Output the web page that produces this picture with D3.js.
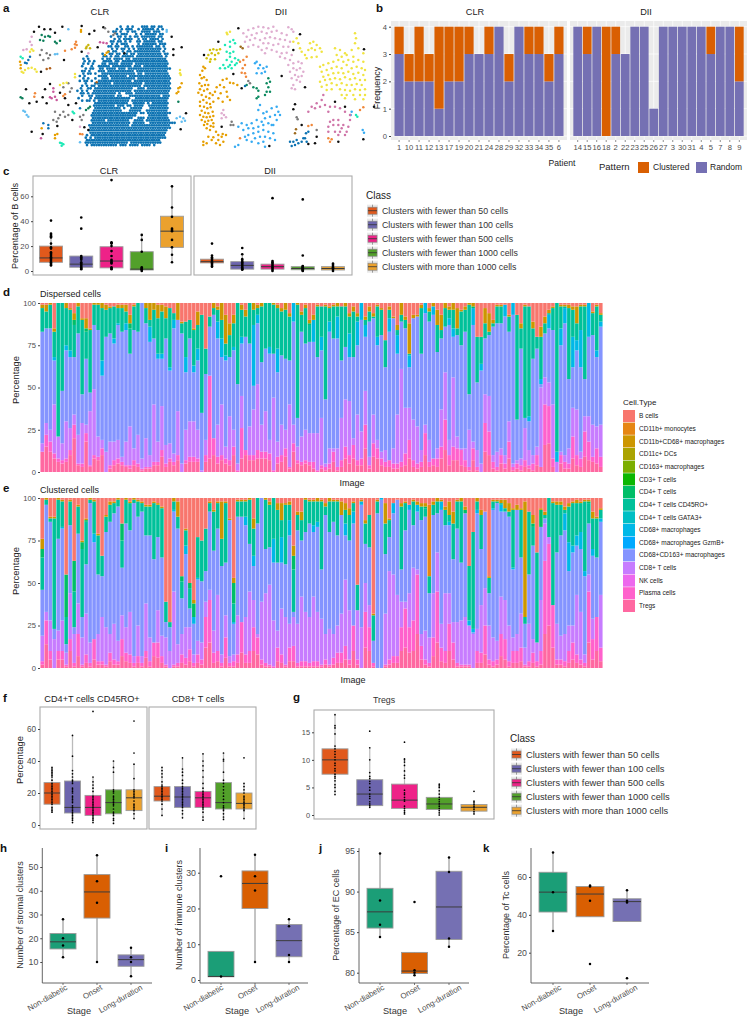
<!DOCTYPE html>
<html>
<head>
<meta charset="utf-8">
<script src="https://d3js.org/d3.v7.min.js"></script>
<style>
body { margin: 0; background: #fff; }
text { font-family: "Liberation Sans", Arial, sans-serif; }
</style>
</head>
<body>
<script>
// ---- a: tissue maps, positions in image units, [x, y, x, y, ...]
var clrBlueMask = [
"...................#..#.#...###.##.##.....",
".................#.#.###..#.#####.#.#.....",
"................##.#..#.##..####.###......",
".................#.###...#.#.#####.##.....",
"...............#..##.#.#.##.######.##.....",
"................#.#.####..#.##.####.#.....",
"...............##.##.#.#..##.#####.##.....",
"...............#.#.###....#.######.###....",
"..............##.##..##.#.#######.##.#....",
"...............#.#.##.#.#.##########.#....",
"..............#.##..#.##.###########.#....",
"...........#..##.##.##.##.##########.##...",
".....#......##.#.##.#####.###########.#...",
"...#.#.....#.##.####.##.##############....",
"....#.#.#...####.##.###################...",
"...#.#.#...##.####.#####.##############...",
"...#...#..#####.########.###.##########...",
"....#.##..##.####.###.##################..",
"...##.#...###.###########.#############...",
"...#.##.#..##############.##.##########...",
"..#.#.....####.#######.#################..",
"...#.#..#..###.##########.##############..",
"..#.##.#..##############.###############..",
"....#...#######.############.###########..",
"...#.#.##.##################.###########..",
"..#..##.################..###.##########..",
".#.#.#..################.###############..",
"..##.#.##########.#..###.##############...",
"...#..##.########.##...#############.###..",
".#....#.###############..##############...",
"...#.##.#.#############.###############...",
"........##############..#####.#.#######...",
"........#########.###.##.####..########...",
"........###########.#..#####...########...",
"........############...#####..#########...",
".......###################.##.##########...",
".......###################.....########....",
".......#################..###.#########....",
".......######.#########..####.##########..",
".......################.#####..###########.",
"......#################.################..",
"......##################################.",
"......#################################..",
"......################################...",
".....#.###############################...",
"....#.#.##############################....",
".....###############################.....",
"....##################.#############......",
".....#.###########.###.####.####.#........"
];
var clrBlackPts = [117,80,133,88,151,88,165,98,187,80,245,78,283,92,268,102,102,95,310,82,293,142,245,155,192,180,123,215,150,252,78,268,135,268,180,278,128,292,110,305,88,310,205,315,195,295,140,310,172,378,95,395,128,402,265,390,253,382,217,360,373,160,515,110,545,142,520,148,520,165,558,340,542,388,228,310];
var clrGreyPts = [125,150,120,165,150,165,145,175,130,180,140,160,205,250,215,265,210,275,190,262,165,335,180,345,190,335,175,355,160,360,195,350,205,345,170,365,240,350,250,345,245,360,315,85,325,95,345,100,340,105];
var clrGreenPts = [125,105,135,110,150,110,130,122,120,120,165,125,180,122,170,130,145,108,265,325,258,330,270,320,62,292,67,295,535,305];
var clrLilacPts = [95,110,90,125,95,135,70,150,80,148,240,380,265,160];
var clrYellowPts = [65,215,75,210,85,205,95,203,105,208,110,215,70,218,180,255,190,250,200,248,225,222,225,232,540,210,540,220,542,225,95,148,100,152,90,155];
var clrOlivePts = [260,140,265,135,258,145,270,145];
var clrGoldPts = [60,185,62,195,62,205,165,405,165,415,172,402,320,158,315,165,325,155,535,265,535,275,530,280,545,250,540,262,125,385,243,90,243,95];
var clrSkyPts = [205,88,500,95,500,90,75,335,80,345,85,350,70,332,165,163,172,162,530,355,540,350,550,355,545,365,555,362,240,427];
var clrCoralPts = [228,125,225,133,230,135,195,152,215,148,225,143,105,280,103,290,190,288,195,283,240,402,247,403];
var clrTealPts = [185,430,180,428,190,433,185,437,218,335,222,340,62,170,68,175];
var clrDeepPts = [90,170,85,180,75,188,80,190,145,375,145,385,130,370,240,325];
var clrMagentaPts = [160,265,160,275,165,290,155,295,170,300,150,292,300,127,310,128,320,130,123,415];
var clrBrownPts = [140,207,150,205,290,247];

var diiGoldPts = [610,200,607,212,615,205,600,225,605,235,612,232,620,240,598,250,605,258,615,255,625,255,600,268,612,272,622,268,630,280,595,278,605,285,618,290,628,295,638,285,645,275,650,262,660,255,668,240,680,236,690,248,700,250,712,255,672,262,680,275,662,280,655,295,668,305,682,290,690,300,600,305,610,300,620,308,630,312,640,305,600,318,612,320,622,325,632,322,605,332,615,338,625,340,638,335,600,345,610,350,620,352,630,350,640,348,605,360,615,365,625,362,635,360,612,375,622,372,632,378,640,370,620,385,630,390,640,380,648,395,655,405,668,402,678,405,625,410,640,412,655,420,610,425,620,430,635,420,648,430,660,435,670,425,610,435,665,410];
var diiLilacPts = [730,100,745,90,760,85,775,80,790,82,805,85,820,80,865,82,875,88,880,95,740,110,755,105,770,100,785,95,800,100,815,95,830,92,845,100,860,105,735,125,750,120,765,115,780,120,795,115,810,112,825,115,840,118,855,120,870,125,760,135,775,140,790,130,805,130,820,135,835,132,850,140,865,140,745,140,785,150,800,145,815,150,830,155,845,160,860,158,875,165,795,160,840,170,855,175,870,180,880,190,895,185,905,190,865,195,880,205,890,210,900,205,910,215,870,215,885,225,895,230,905,228,875,235,890,240,900,245,880,255,875,265,885,268,670,330,665,340,672,345,678,352,665,355];
var diiYellowPts = [880,125,890,115,895,130,900,145,905,155,915,165,930,130,940,125,950,135,935,145,925,150,945,150,960,145,920,175,935,172,950,170,965,155,1005,145,1020,150,1035,160,1055,150,1065,100,1068,115,1065,130,1075,145,1090,160,1060,170,1040,165,1025,170,1010,165,960,200,970,195,985,190,1000,185,1015,180,1030,185,1045,180,1060,185,1075,180,1090,185,965,215,980,210,995,205,1010,200,1025,205,1040,195,1055,205,1070,200,1085,205,1095,210,970,230,985,225,1000,220,1015,218,1030,220,1045,215,1060,222,1075,218,1090,225,960,245,975,240,990,238,1005,235,1020,238,1035,232,1050,238,1065,235,1080,240,1095,240,965,260,980,255,995,250,1010,255,1025,250,1040,255,1055,255,1070,252,1085,255,980,270,995,268,1020,268,1035,270,1050,272,1065,268,1080,270,1095,268,1025,285,1040,285,1060,285,1080,285,1095,285,1035,295,1065,298,1090,298,680,98,690,95,682,103];
var diiSkyPts = [770,185,780,195,775,205,790,205,800,200,795,215,785,220,770,220,765,190,780,315,775,330,790,340,800,335,815,325,830,320,840,345,835,335,825,345,810,350,795,355,785,365,770,360,755,370,740,375,725,370,715,380,730,390,745,385,760,385,775,380,790,375,805,370,820,375,760,400,775,395,790,390,805,395,820,400,745,405,735,410,765,415,780,410,795,410,810,415,825,420,790,425,775,430,755,425,740,420,715,435,705,440,795,440,815,375,830,360,1055,335,1052,345,1088,390,1092,398];
var diiTealPts = [700,120,690,125,675,135,690,140,705,130,680,155,690,160,700,155,690,170,705,175,680,180,695,185,710,190,670,195,685,200,660,205,675,205,695,205,705,195,715,180,690,195,1072,350,1068,345];
var diiOlivePts = [630,150,640,148,650,150,660,148,625,165,635,160,645,165,655,160,620,175,632,178,645,178,630,185];
var diiCoralPts = [720,185,730,180,740,170,735,195,728,205,725,218,735,220,738,230,1080,330,1090,322,720,415,925,378,935,375,985,415,990,425,995,418];
var diiMagentaPts = [970,285,965,300,950,310,935,320,925,335,945,325,960,320,975,315,990,320,985,335,1005,320,1020,325,1035,335,1050,360,1045,380,1030,375,1015,360,1000,360,990,365,985,380,1000,375,1015,375,1025,385,1040,395,1020,395,1005,395,1035,405,1015,405,985,395,1050,345];
var diiGreenPts = [805,235,810,245,800,250,805,262,800,275,810,275,795,285,775,290,770,295,760,262,770,265,775,272,740,255];
var diiDeepPts = [870,425,880,425,890,420,895,430,885,435,875,438,910,415,918,400,925,395,920,425,915,415,905,425,735,258];
var diiBlackPts = [715,85,655,125,900,103,880,150,612,165,700,222,845,228,915,262,725,265,1092,148,1005,305,1035,320,885,313,880,328,665,380,808,438,905,375,945,430,925,432,950,410,1015,425,1090,418,1122,320];
var diiGreyPts = [745,243,750,250,890,352,893,358,695,365,692,375,700,375,950,390];
var diiBrownPts = [722,140,728,145,888,388,885,400];

// ---- b
var clrPatients = ["1","10","11","12","13","17","19","20","21","24","28","29","32","33","34","35","6"];
var clrRandom = [3,2,2,2,1,2,2,3,3,3,4,2,4,3,3,2,3];
var clrClustered = [1,1,2,1,3,2,2,1,0,1,0,1,0,1,1,1,1];
var diiPatients = ["14","15","16","18","2","22","23","25","26","27","3","30","31","4","5","7","8","9"];
var diiRandom = [4,3,4,0,3,3,4,4,1,4,4,4,4,4,3,4,4,2];
var diiClustered = [0,1,0,4,1,0,0,0,0,0,0,0,0,0,1,0,0,2];

// ---- box plots: each stat row is [q1, median, q3, whisker low, whisker high]
var classes = ["Clusters with fewer than 50 cells","Clusters with fewer than 100 cells","Clusters with fewer than 500 cells","Clusters with fewer than 1000 cells","Clusters with more than 1000 cells"];
var cClrStats = [[7,10.5,20,4,30],[3,5.5,12,1.5,12],[2.5,8,19.5,1.5,23],[0.8,1.5,15.5,0,29],[19,32,44,7,68]];
var cClrDots = [[4.5,5,6,7,8,9,10,11,12,13,14,15,18,19,22,27,28,29,30,40.5],[1.5,2,3,4,5,6,7,9,10,11,12,34,43],[1.5,2,3,6,7,8,9,12,16,20,22,22.5,23,73],[0,1,1.5,2,3,15.5,25,29],[7,13,19,25,32,33,34,43.5,51,68]];
var cDiiStats = [[6.5,7.5,9.5,3,12.5],[1.5,4.5,7.5,1,13.5],[1.5,3.5,5.5,0,8],[1,2,3.5,0,4.5],[0.8,2,3.5,0,6]];
var cDiiDots = [[3.5,4,5,6,7,8,9,10,11,12.5,22],[1,1.5,2,3,4,5,6,7,8,9.5,13.5,18.5],[0,1,2,3,4,5,6,7,8,58.5],[0,0.5,1,1.5,2,2.5,3,3.5,4,12.5,57.5],[0,1,2,3,4,5,6]];

var f1Stats = [[13,20,26.5,8,36],[7.5,11,27.5,1.5,56],[6,11,18.5,1.5,30],[7,14,22,1,40],[9,17,22,4,38]];
var f1Dots = [[8,9,10,11,13,14,15,16,17,18,19,20,21,22,23,24,25,26,28,30,31,32,33,34,35,36],[1.5,3,4,5,6,7,8,9,10,11,12,14,15,16,17,18,20,21,22,23,26,27,28,30,32,34,43,56],[1.5,3,4,5,6,7,8,9,10,11,12,13,14,15,16,17,18,21,23,25,27,30,71],[1,3,4,6,7,8,10,12,13,14,15,16,17,18,20,21,22,33,36,40],[4,7,9,10,11,12,13,15,17,18,19,20,21,22,29,38,45,65]];
var f2Stats = [[15,18,24,6,36],[11,17.5,24,4.5,42],[11,17,21,3,44.5],[10,14,26.5,3.5,45],[10,13.5,20,4,26]];
var f2Dots = [[6,10,13,15,16,17,18,19,20,21,22,23,24,25,27,30,32,34,36],[4.5,7,9,11,12,13,14,15,16,17,18,19,20,21,22,23,24,26,28,31,33,35,42],[3,5,8,10,11,12,13,14,15,16,17,18,19,20,21,23,26,30,34,37,40,44.5],[3.5,5,7,9,10,11,12,14,16,18,20,22,24,26,28,33,40,41,45],[4,9,10,11,12,13,14,15,16,17,18,20,22,24,26,42]];
var gStats = [[7.4,10,12,3.7,18.2],[1.7,3.8,6.4,1.4,12.2],[1.2,2.7,5.6,0.2,10.2],[1,2,3.2,0,5.6],[0.7,1.4,1.9,0.2,2.5]];
var gDots = [[3.7,4.3,5,5.5,6.2,6.7,7,7.4,8,8.4,9,9.4,10,10.5,11,11.5,12,12.5,14.7,15.8,16.2,18.2],[1.4,1.7,2,2.4,3,3.4,3.8,4.5,5,5.7,6.1,6.6,7,7.7,10,12.2,15.2],[0.2,0.5,0.8,1.2,1.6,2.5,2.8,3.2,3.7,4,4.5,6.7,7.2,8,9,9.6,10,10.2,13.2],[0,0.4,0.8,1.2,1.6,2,2.4,2.8,3.2,3.8,4.4,5,5.3,5.6],[0.2,0.6,1,1.3,1.6,1.9,2.2,2.5,4.3]];

var stages = ["Non-diabetic","Onset","Long-duration"];
var hStats = [[15.5,18.5,22,12,28],[28.5,39.5,46.8,10,55],[8.2,11,13,4,16]];
var hDots = [[12,17,20,28],[10,35,44,55],[4,10,12,16]];
var iStats = [[0.9,1,8,1,8],[20,27,30.5,5,35],[6.5,11,15.5,5,17]];
var iDots = [[1,29],[5,25,29,35],[5,7,15,17]];
var jStats = [[85.5,87.5,90.4,84.4,94.7],[79.9,80.2,82.5,79.7,82.5],[84.1,88.1,92.5,83.2,94.2]];
var jDots = [[84.4,85.9,88.9,94.7],[79.7,80,80.3,88.7],[83.2,84.2,92.4,94.2]];
var kStats = [[41.5,52,62.5,31.5,73],[39,51,55,39,55.5],[36.5,47,48.5,36.5,53]];
var kDots = [[31.5,52,73],[14,47.5,55,55.5],[6.5,46.5,47.5,53]];

// ---- d: cumulative tops of each layer per image
var dTreg = [12,15,12,8,6,5,6,10,20,4,3,18,3,8,7,10,0,2,4,5,4,3,2,4,3,1,2,2,4,4,9,3,6,4,7,0,5,6,6,6,0,6,8,10,5,7,5,4,10,0,8,10,7,7,8,8,8,7,0,5,6,9,2,12,5,4,5,4,
 2,0,2,1,2,6,1,3,8,5,8,4,4,14,2,9,8,4,3,3,2,2,3,4,8,3,2,3,10,3,4,3,8,13,4,7,7,4,3,1,7,1,0,12,10,2,1,5,2,8,1,2,1,3,2,1,4,3,16,17,3,0,5,2,2,8,4,3,9,7,6,5,3];
var dPlasma = [12,22,18,11,8,7,8,13,28,5,5,23,4,10,9,14,0,4,7,8,6,4,4,7,5,2,3,3,6,6,13,5,8,6,10,0,7,9,9,8,0,10,57,20,9,10,8,7,15,1,26,13,10,10,13,12,12,11,1,9,10,14,3,17,7,6,7,6,
 6,1,4,3,5,12,3,7,15,10,16,7,8,28,4,17,14,8,6,7,5,5,6,11,19,7,5,6,23,6,8,8,15,31,10,15,14,13,7,3,14,3,0,29,24,6,3,10,5,18,3,5,4,7,4,5,10,3,40,39,8,0,10,6,5,21,10,8,24,18,9,14,9];
var dCd8 = [17,29,25,40,21,17,30,26,34,22,29,28,36,49,21,19,12,18,18,19,9,18,27,14,22,8,20,10,40,18,39,16,17,11,36,5,25,30,30,25,1,19,57,20,28,40,15,33,25,5,45,12,27,37,52,28,36,19,44,18,28,25,40,28,15,21,25,23,
 23,23,32,5,14,14,14,32,43,42,20,34,24,48,9,34,19,12,13,5,14,34,61,38,38,31,27,13,28,19,8,14,37,59,19,56,21,14,14,25,18,13,5,46,45,10,12,14,10,30,5,7,8,26,13,10,15,50,56,53,40,6,12,10,14,38,37,12,33,33,28,27,28];
var dBlue = [83,85,85,66,21,48,72,68,68,82,46,67,47,87,84,57,80,82,76,87,83,84,70,84,83,100,88,77,79,67,67,79,60,85,90,82,59,79,59,66,35,58,86,93,79,68,66,68,72,52,76,80,76,51,88,65,73,70,70,59,69,67,66,89,32,83,76,77,
 77,68,72,43,83,79,79,66,74,68,68,75,90,80,89,91,75,81,62,83,91,70,89,85,62,91,92,70,94,89,93,71,79,86,87,80,81,75,83,46,87,53,60,79,81,86,88,88,92,83,93,31,73,32,30,67,73,52,82,85,84,6,75,88,55,62,72,62,55,80,81,68,86];
var dCyanBars = [[3,2],[6,3],[7,4],[15,9],[19,1],[18,3],[21,4],[27,9],[29,3],[30,3],[32,2],[33,5],[36,9],[38,4],[39,7],[44,10],[45,11],[46,3],[48,2],[50,4],[53,36],[54,5],[57,4],[59,14],[63,20],
 [68,13],[70,8],[72,6],[74,13],[77,14],[79,14],[80,14],[81,7],[84,5],[87,8],[89,11],[92,7],[96,8],[98,5],[102,4],[103,5],[108,10],[110,4],[116,7],[118,12],[122,3],[125,3],[127,8],[129,6],[130,10],[131,9],[133,18],[134,6],[135,22],[137,22],[139,4],[140,3]];
var dTeal = [97,95,99,83,100,100,97,96,90,98,90,85,84,99,99,97,96,97,98,97,97,95,88,98,100,100,97,90,96,91,95,91,97,94,90,88,89,90,84,87,93,73,92,97,96,90,76,81,88,100,96,92,100,96,97,98,100,100,99,97,95,96,92,98,99,93,97,88,
 90,98,98,98,97,98,98,98,98,92,95,92,90,90,95,92,98,96,78,96,90,84,93,90,70,88,92,97,98,95,98,87,84,97,96,96,85,95,96,99,98,80,80,88,83,88,98,98,97,92,93,93,85,98,98,85,80,80,88,94,97,100,98,98,97,96,88,98,98,98,94,98,93];
var dGold = [99,99,100,85,100,100,100,97,94,100,91,91,85,100,100,100,99,98,98,99,99,99,93,99,100,100,100,100,100,99,99,98,97,92,100,89,89,89,85,95,93,73,92,100,98,100,93,88,93,100,99,96,100,100,99,100,100,100,100,99,97,100,94,100,100,95,99,90,
 93,99,98,99,98,99,100,98,100,94,98,94,93,92,98,94,99,97,78,98,92,87,100,92,88,93,93,99,99,97,100,96,93,100,98,100,97,96,98,100,100,80,80,97,94,90,99,99,99,93,94,93,88,99,98,89,80,86,92,96,98,100,99,99,99,98,98,99,99,99,95,99,94];
var dGreenBars = [[8,3],[11,2],[22,3],[67,1],[108,1]];

// ---- e
var eTreg = [2,14,5,0,5,5,1,10,1,7,1,3,1,5,2,2,1,4,2,2,7,4,3,1,3,1,6,1,7,6,3,1,0,1,1,3,2,4,1,3,2,12,15,3,4,1,6,1,1,3,9,3,3,10,8,2,1,1,0,4,3,1,4,4,1,1,1,1,
 1,1,1,2,1,2,3,3,5,2,10,2,0,12,10,1,0,0,1,2,3,3,10,12,9,10,20,5,2,1,7,15,4,3,10,5,1,1,1,1,0,3,3,8,2,1,2,7,5,1,3,3,4,1,1,3,1,2,20,25,12,2,2,1,3,5,3,2,1,15,5,10,4];
var ePlasma = [4,28,10,0,10,10,2,17,3,20,2,8,3,17,4,4,2,9,5,4,17,9,8,3,7,3,10,4,15,15,7,2,0,2,3,8,6,11,3,8,5,30,40,9,10,3,18,3,4,8,27,8,10,24,18,5,3,2,1,12,8,2,12,13,3,4,4,3,
 4,4,2,5,2,6,9,9,13,5,25,5,0,33,24,3,0,0,2,5,7,7,24,35,24,28,55,13,5,3,18,45,12,10,26,15,3,2,2,2,0,10,9,25,5,4,5,20,17,4,10,10,12,2,4,9,4,10,63,73,37,5,5,4,10,15,8,5,3,45,17,30,12];
var eCd8 = [19,33,28,17,22,28,9,44,20,38,18,32,15,17,20,30,24,20,26,16,31,24,33,7,25,7,38,18,13,34,19,18,10,45,14,20,24,24,8,16,15,39,46,22,43,8,31,7,8,31,12,30,45,40,20,39,44,49,28,22,35,30,26,30,26,42,33,30,
 42,33,29,20,23,20,25,32,52,34,25,34,24,50,37,0,0,0,32,57,55,43,39,39,44,59,58,20,22,18,44,68,26,44,44,27,27,28,30,25,20,23,37,47,25,18,16,42,40,25,18,20,32,12,26,17,15,40,85,77,34,26,19,20,25,25,43,33,8,55,29,30,43];
var eBlue = [46,96,86,23,76,82,14,84,24,79,30,61,97,74,55,54,80,86,91,95,59,85,81,97,89,92,78,78,64,77,65,27,24,92,82,41,67,35,26,52,51,57,92,69,82,60,62,87,26,89,89,84,73,60,85,100,70,71,62,62,62,61,78,33,81,75,80,85,
 80,83,58,90,80,86,78,90,78,75,85,23,96,73,71,16,91,99,67,77,91,99,58,81,93,84,92,87,89,44,90,91,93,84,84,64,82,62,91,25,21,91,70,92,44,93,97,92,92,89,58,93,65,26,55,72,15,83,88,68,34,68,78,81,57,68,72,70,54,85,66,65,86];
var eCyanBars = [[5,1],[13,5],[33,1],[36,5],[38,4],[39,1],[48,1],[51,5],[53,6],[58,14],[60,15],[62,9],[68,4],[69,3],[85,5],[88,6],[92,3],[94,4],[100,5],[102,2],[107,3],[113,1],[115,4],[118,1],
 [76,7],[78,7],[80,2],[108,2],[109,2],[133,4],[131,10],[132,17],[134,6],[135,10],[136,3],[138,4],[140,2]];
var eTeal = [70,99,88,88,99,98,55,98,63,95,74,87,99,98,78,66,89,96,97,99,85,99,97,99,98,97,95,95,97,96,94,39,27,98,89,54,81,50,38,77,75,82,97,92,97,76,97,87,50,98,98,98,99,82,100,100,99,96,100,93,87,96,96,66,90,87,99,98,
 98,98,98,95,98,98,98,90,93,90,97,49,98,85,90,31,98,98,85,87,95,75,95,97,90,98,96,95,95,54,96,98,97,93,90,85,98,98,93,60,80,98,90,90,53,98,98,97,94,92,93,88,93,30,92,85,68,93,90,100,97,96,96,93,95,97,97,97,98,98,88,88,93];
var eGold = [76,100,89,89,100,99,55,99,63,96,75,88,100,99,79,66,90,98,98,100,85,100,98,100,99,98,96,96,98,97,95,39,27,100,98,54,82,50,40,77,75,82,98,93,98,98,98,88,53,99,99,99,100,88,100,100,100,98,100,97,97,97,98,72,92,92,100,99,
 99,100,99,97,100,99,99,98,97,94,98,49,99,87,90,32,99,100,97,88,97,97,97,98,91,99,98,97,97,96,98,100,99,95,98,92,99,100,95,60,80,100,93,92,54,99,99,99,99,97,94,96,94,98,92,90,68,94,92,100,98,98,98,95,97,98,99,98,99,99,92,89,94];
var eGreenBars = [[0,5],[6,25],[8,18],[11,1],[10,4],[20,10],[35,3],[37,3],[38,8],[48,12],[63,8],[96,1],[106,10],[123,2],[125,40],[137,1]];
var eOrangeBars = [97];

var cellTypes = ["B cells","CD11b+ monocytes","CD11b+CD68+ macrophages","CD11c+ DCs","CD163+ macrophages","CD3+ T cells","CD4+ T cells","CD4+ T cells CD45RO+","CD4+ T cells GATA3+","CD68+ macrophages","CD68+ macrophages GzmB+","CD68+CD163+ macrophages","CD8+ T cells","NK cells","Plasma cells","Tregs"];
var cellColors = ["#F8766D","#E68613","#CD9600","#ABA300","#7CAE00","#0CB702","#00BE67","#00C19A","#00BFC4","#00B8E7","#00A9FF","#8494FF","#C77CFF","#ED68ED","#FF61CC","#FF68A1"];
var classColors = ["#e1591c","#6c65ad","#ee2288","#52a02a","#eba12d"];
var stageColors = ["#1b9e77","#d95f02","#7570b3"];
var patternColors = ["#d95f02","#7570b3"];

var svg = d3.select("body").append("svg").attr("width", 747).attr("height", 1017).style("display", "block");
var grey = "#4d4d4d";

// the source dots are soft, keep panel a from looking like a lattice
svg.append("defs").append("filter").attr("id", "soft")
.append("feGaussianBlur").attr("stdDeviation", 0.35);
var aLayer = svg.append("g").attr("filter", "url(#soft)");

function label(x, y, str, size, opt) {
    opt = opt || {};
    var t = svg.append("text").attr("x", x).attr("y", y).text(str)
    .attr("font-size", size)
    .attr("fill", opt.fill || "#222")
    .attr("text-anchor", opt.anchor || "start");
    if (opt.bold) t.attr("font-weight", "bold");
    if (opt.rotate) t.attr("transform", "rotate(" + opt.rotate + "," + x + "," + y + ")");
    return t;
}

// y axis in the ggplot look
function yAxis(x, scale, ticks, size, showLine) {
    var g = svg.append("g").attr("transform", "translate(" + x + ",0)")
    .call(d3.axisLeft(scale).tickValues(ticks).tickFormat(d3.format("d")).tickSize(2).tickPadding(2));
    g.selectAll("text").attr("font-size", size).attr("fill", grey).style("font-family", "Liberation Sans");
    g.selectAll("line").attr("stroke", "#444");
    if (showLine) g.select(".domain").attr("stroke", "#444").attr("stroke-width", 0.9);
    else g.select(".domain").remove();
    return g;
}

function frame(x0, x1, y0, y1) {
    svg.append("rect").attr("x", x0).attr("y", y0).attr("width", x1 - x0).attr("height", y1 - y0)
    .attr("fill", "none").attr("stroke", "#ababab").attr("stroke-width", 1.1);
}

// ---------- panel letters
[["a",3,12],["b",376,12],["c",3,175],["d",3,296],["e",3,492],["f",3,702],["g",293,701],["h",0,852],["i",165,852],["j",319,852],["k",483,852]].forEach(function(d) {
    label(d[1], d[2], d[0], 11.5, {bold: true, fill: "#111"});
});

// ---------- a
var ax = d3.scaleLinear().domain([0, 1125]).range([0, 375]);
var ay = d3.scaleLinear().domain([0, 510]).range([0, 170]);

function pairs(flat) {
    var out = [];
    for (var i = 0; i + 1 < flat.length; i += 2) out.push([flat[i], flat[i + 1]]);
    return out;
}

function spots(points, color, r) {
    aLayer.append("g").selectAll("circle").data(points).join("circle")
    .attr("cx", function(d) { return ax(d[0]); })
    .attr("cy", function(d) { return ay(d[1]); })
    .attr("r", r)
    .attr("fill", color);
}

var maskPts = [];
clrBlueMask.forEach(function(row, r) {
    row.split("").forEach(function(c, i) {
        if (c === "#") maskPts.push([225 + i * 7.2 + (r % 2) * 3.6, 80 + r * 7.4]);
    });
});
spots(maskPts, "#0a72b2", 1.35);

[[clrBlackPts,"#111"],[clrGreyPts,"#7a7a7a"],[clrGreenPts,"#0d7f5a"],[clrLilacPts,"#dba6cc"],[clrYellowPts,"#f0e442"],[clrOlivePts,"#c9b50f"],[clrGoldPts,"#e69f00"],[clrSkyPts,"#62bdf0"],[clrCoralPts,"#f0883a"],[clrTealPts,"#1de9b6"],[clrDeepPts,"#0a72b2"],[clrMagentaPts,"#c9589c"],[clrBrownPts,"#b0601a"],
 [diiGoldPts,"#e69f00"],[diiLilacPts,"#dfaed0"],[diiYellowPts,"#f0e442"],[diiSkyPts,"#36abf2"],[diiTealPts,"#1de9b6"],[diiOlivePts,"#d4c20e"],[diiCoralPts,"#f0883a"],[diiMagentaPts,"#cf74a8"],[diiGreenPts,"#0d8a60"],[diiDeepPts,"#0a72b2"],[diiBlackPts,"#111"],[diiGreyPts,"#7a7a7a"],[diiBrownPts,"#9c6a1c"]
].forEach(function(d) { spots(pairs(d[0]), d[1], 1.25); });

label(100, 15, "CLR", 9.4, {anchor: "middle"});
label(281, 15, "DII", 9.4, {anchor: "middle"});

// ---------- b
var by = d3.scaleLinear().domain([0, 4]).range([136, 26.7]);

function patientPanel(x0, x1, patients, random, clustered, title, titleX) {
    var x = d3.scaleBand().domain(patients).range([x0, x1]).paddingInner(0.08).paddingOuter(0.35);
    svg.append("rect").attr("x", x0).attr("y", 21).attr("width", x1 - x0).attr("height", 119).attr("fill", "#ebebeb");
    [0, 1, 2, 3, 4].forEach(function(v) {
        svg.append("line").attr("x1", x0).attr("x2", x1).attr("y1", by(v)).attr("y2", by(v)).attr("stroke", "#fff").attr("stroke-width", 0.7);
    });
    patients.forEach(function(p) {
        var cx = x(p) + x.bandwidth() / 2;
        svg.append("line").attr("x1", cx).attr("x2", cx).attr("y1", 21).attr("y2", 140).attr("stroke", "#fff").attr("stroke-width", 0.7);
        svg.append("line").attr("x1", cx).attr("x2", cx).attr("y1", 140).attr("y2", 142).attr("stroke", "#444").attr("stroke-width", 0.6);
        label(cx, 150, p, 7.6, {anchor: "middle", fill: grey});
    });
    var table = patients.map(function(p, i) { return {patient: p, Random: random[i], Clustered: clustered[i]}; });
    var stack = d3.stack().keys(["Random", "Clustered"])(table);
    svg.append("g").selectAll("g").data(stack).join("g")
    .attr("fill", function(s, i) { return patternColors[1 - i]; })
    .selectAll("rect").data(function(s) { return s; }).join("rect")
    .attr("x", function(d) { return x(d.data.patient); })
    .attr("width", x.bandwidth())
    .attr("y", function(d) { return by(d[1]); })
    .attr("height", function(d) { return by(d[0]) - by(d[1]); });
    label(titleX, 15, title, 9.2, {anchor: "middle"});
}
patientPanel(391, 567, clrPatients, clrRandom, clrClustered, "CLR", 475);
patientPanel(570, 747, diiPatients, diiRandom, diiClustered, "DII", 646);
yAxis(391, by, [0, 1, 2, 3, 4], 7.6, false);
label(380, 88, "Frequency", 9, {rotate: -90, anchor: "middle"});
label(562, 166, "Patient", 8.6, {anchor: "middle"});
label(599, 170, "Pattern", 9.5);
svg.append("rect").attr("x", 638).attr("y", 162).attr("width", 11).attr("height", 11).attr("fill", patternColors[0]);
label(653, 170, "Clustered", 8.5);
svg.append("rect").attr("x", 696).attr("y", 162).attr("width", 11).attr("height", 11).attr("fill", patternColors[1]);
label(710, 170, "Random", 8.5);

// ---------- box plots
function boxes(cats, x, y, stats, dots, colors, w, r, opt) {
    opt = opt || {};
    var g = svg.append("g");
    cats.forEach(function(cat, i) {
        var cx = x(cat), s = stats[i];
        g.append("line").attr("x1", cx).attr("x2", cx).attr("y1", y(s[3])).attr("y2", y(s[4]))
        .attr("stroke", opt.whisker || "#999").attr("stroke-width", opt.whiskerWidth || 1);
        g.append("rect").attr("x", cx - w / 2).attr("width", w)
        .attr("y", y(s[2])).attr("height", y(s[0]) - y(s[2]))
        .attr("fill", colors[i]).attr("stroke", opt.stroke || "#9c9c9c").attr("stroke-width", 0.9);
        g.append("line").attr("x1", cx - w / 2).attr("x2", cx + w / 2).attr("y1", y(s[1])).attr("y2", y(s[1]))
        .attr("stroke", "#3c3c3c").attr("stroke-width", 1);
        g.selectAll(null).data(dots[i]).join("circle")
        .attr("cx", cx).attr("cy", function(v) { return y(v); }).attr("r", r).attr("fill", "#000");
    });
}

function classLegend(x, titleY, ys, size, titleSize) {
    label(x - 1, titleY, "Class", titleSize);
    classes.forEach(function(c, i) {
        var yy = ys[i];
        svg.append("rect").attr("x", x).attr("y", yy - 6).attr("width", 11).attr("height", 12).attr("fill", "#e9e9e9");
        svg.append("line").attr("x1", x + 5.5).attr("x2", x + 5.5).attr("y1", yy - 6).attr("y2", yy + 6).attr("stroke", "#777").attr("stroke-width", 0.7);
        svg.append("rect").attr("x", x + 1).attr("y", yy - 3.5).attr("width", 9).attr("height", 7).attr("fill", classColors[i]).attr("stroke", "#888").attr("stroke-width", 0.7);
        svg.append("line").attr("x1", x + 1).attr("x2", x + 10).attr("y1", yy).attr("y2", yy).attr("stroke", "#333").attr("stroke-width", 0.8);
        label(x + 15, yy + 3, c, size, {fill: "#333"});
    });
}

// ---------- c
var cy = d3.scaleLinear().domain([0, 60]).range([271, 196.3]);
var cx1 = d3.scalePoint().domain(classes).range([51, 172]);
var cx2 = d3.scalePoint().domain(classes).range([212, 333]);
frame(33, 191, 176, 275);
frame(194, 352, 176, 275);
boxes(classes, cx1, cy, cClrStats, cClrDots, classColors, 23, 1.3);
boxes(classes, cx2, cy, cDiiStats, cDiiDots, classColors, 23, 1.3);
yAxis(33, cy, [0, 20, 40, 60], 7.8, false);
label(18, 226, "Percentage of B cells", 9.1, {rotate: -90, anchor: "middle"});
label(109, 174, "CLR", 9.2, {anchor: "middle"});
label(270, 174, "DII", 9.2, {anchor: "middle"});
classLegend(367, 199, [210.7, 224.7, 238.7, 252.7, 266.7], 8.8, 10);

// ---------- d, e stacked bars
function stackedPanel(top, bottom, treg, plasma, cd8, blue, cyanBars, teal, gold, greenBars, orangeBars) {
    var y = d3.scaleLinear().domain([0, 100]).range([bottom, top]);
    var ids = d3.range(blue.length);
    var x = d3.scaleBand().domain(ids).range([40, 603]).padding(0.11);
    var cyanMap = new Map(cyanBars), greenMap = new Map(greenBars), orange = new Set(orangeBars || []);
    var g = svg.append("g");
    ids.forEach(function(i) {
        var layers = [];
        var prev = 0;
        function add(v, color) {
            v = Math.min(100, Math.max(prev, v));
            if (v > prev) layers.push([prev, v, color]);
            prev = v;
        }
        add(treg[i], "#FF68A1");
        add(plasma[i], "#FF61CC");
        add(cd8[i], "#C77CFF");
        add(blue[i], "#8494FF");
        if (cyanMap.has(i)) add(blue[i] + cyanMap.get(i), "#00B8E7");
        var green = greenMap.get(i) || 0;
        add(teal[i] - green, "#00C19A");
        add(teal[i], "#00BE67");
        add(gold[i], orange.has(i) ? "#E68613" : "#CD9600");
        add(100, "#F8766D");
        g.selectAll(null).data(layers).join("rect")
        .attr("x", x(i)).attr("width", x.bandwidth())
        .attr("y", function(d) { return y(d[1]); })
        .attr("height", function(d) { return y(d[0]) - y(d[1]); })
        .attr("fill", function(d) { return d[2]; });
    });
    yAxis(40, y, [0, 25, 50, 75, 100], 7.6, false);
    return y;
}
stackedPanel(303, 472, dTreg, dPlasma, dCd8, dBlue, dCyanBars, dTeal, dGold, dGreenBars);
stackedPanel(498, 668, eTreg, ePlasma, eCd8, eBlue, eCyanBars, eTeal, eGold, eGreenBars, eOrangeBars);
label(40, 297, "Dispersed cells", 9);
label(40, 493, "Clustered cells", 9);
label(352, 486, "Image", 9, {anchor: "middle"});
label(353, 683, "Image", 9, {anchor: "middle"});
label(18.5, 380, "Percentage", 9.4, {rotate: -90, anchor: "middle"});
label(18.5, 571, "Percentage", 9.4, {rotate: -90, anchor: "middle"});

// cell type legend
label(623, 405, "Cell.Type", 8);
var legendY = d3.scaleBand().domain(cellTypes).range([410, 612]).paddingInner(0.04);
svg.append("g").selectAll("rect").data(cellTypes).join("rect")
.attr("x", 623).attr("width", 12)
.attr("y", function(d) { return legendY(d); })
.attr("height", legendY.bandwidth())
.attr("fill", function(d, i) { return cellColors[i]; });
cellTypes.forEach(function(c) {
    label(639, legendY(c) + legendY.bandwidth() / 2 + 2.2, c, 6.5, {fill: "#222"});
});

// ---------- f
var fy = d3.scaleLinear().domain([0, 60]).range([825, 729]);
var fx1 = d3.scalePoint().domain(classes).range([52, 134]);
var fx2 = d3.scalePoint().domain(classes).range([162, 244]);
frame(40, 147, 707, 829);
frame(149, 256, 707, 829);
boxes(classes, fx1, fy, f1Stats, f1Dots, classColors, 16, 0.85, {whisker: "#bbb", whiskerWidth: 1.3});
boxes(classes, fx2, fy, f2Stats, f2Dots, classColors, 16, 0.85, {whisker: "#bbb", whiskerWidth: 1.3});
yAxis(40, fy, [0, 20, 40, 60], 8.2, false);
label(23, 760, "Percentage", 9.4, {rotate: -90, anchor: "middle"});
label(92, 702, "CD4+T cells CD45RO+", 9.2, {anchor: "middle"});
label(198, 702, "CD8+ T cells", 9.2, {anchor: "middle"});

// ---------- g
var gy = d3.scaleLinear().domain([0, 15]).range([815, 732.3]);
var gx = d3.scalePoint().domain(classes).range([335, 474]);
frame(314, 494, 710, 819);
boxes(classes, gx, gy, gStats, gDots, classColors, 26, 0.85, {whisker: "#bbb", whiskerWidth: 1.2});
yAxis(314, gy, [0, 5, 10, 15], 7.4, false);
label(384, 703, "Tregs", 8.8, {anchor: "middle", fill: "#333"});
classLegend(511, 742, [754.5, 768.7, 782.7, 796.7, 810.7], 9.3, 10);

// ---------- h, i, j, k
function stagePanel(axisX, axisEnd, cxs, w, y, ticks, stats, dots, yLabel, labelX, stageX, tickShift) {
    var top = 848, bottom = 983;
    var x = d3.scalePoint().domain(stages).range([cxs[0], cxs[1]]);
    boxes(stages, x, y, stats, dots, stageColors, w, 1.25, {whisker: "#888", stroke: "#999"});
    yAxis(axisX, y, ticks, 8.8, false);
    svg.append("line").attr("x1", axisX).attr("x2", axisX).attr("y1", top).attr("y2", bottom).attr("stroke", "#555").attr("stroke-width", 0.9);
    svg.append("line").attr("x1", axisX).attr("x2", axisEnd).attr("y1", bottom).attr("y2", bottom).attr("stroke", "#555").attr("stroke-width", 0.9);
    stages.forEach(function(s, i) {
        svg.append("line").attr("x1", x(s)).attr("x2", x(s)).attr("y1", bottom).attr("y2", bottom + 2).attr("stroke", "#444").attr("stroke-width", 0.7);
        label(x(s) + tickShift[i], bottom + 6, s, 7.9, {anchor: "end", rotate: -30, fill: grey});
    });
    label(stageX, 1014, "Stage", 9.2, {anchor: "middle", fill: "#333"});
    label(labelX, 915, yLabel, 9, {rotate: -90, anchor: "middle", fill: "#333"});
}
stagePanel(42.3, 152, [63, 131], 26, d3.scaleLinear().domain([10, 50]).range([962, 867]), [10, 20, 30, 40, 50], hStats, hDots, "Number of stromal clusters", 23, 79, [5, 6, 12]);
stagePanel(200, 308, [221, 289], 26, d3.scaleLinear().domain([0, 30]).range([980, 872.7]), [0, 10, 20, 30], iStats, iDots, "Number of immune clusters", 182, 237, [3, 3, 11]);
stagePanel(359, 469, [380, 449], 26, d3.scaleLinear().domain([80, 95]).range([972.7, 851]), [80, 85, 90, 95], jStats, jDots, "Percentage of EC cells", 339, 395, [5, 6, 13]);
stagePanel(531, 649, [553, 627], 28, d3.scaleLinear().domain([20, 60]).range([952.7, 877]), [20, 40, 60], kStats, kDots, "Percentage of Tc cells", 509, 571, [9, 7, 11]);
</script>
</body>
</html>
